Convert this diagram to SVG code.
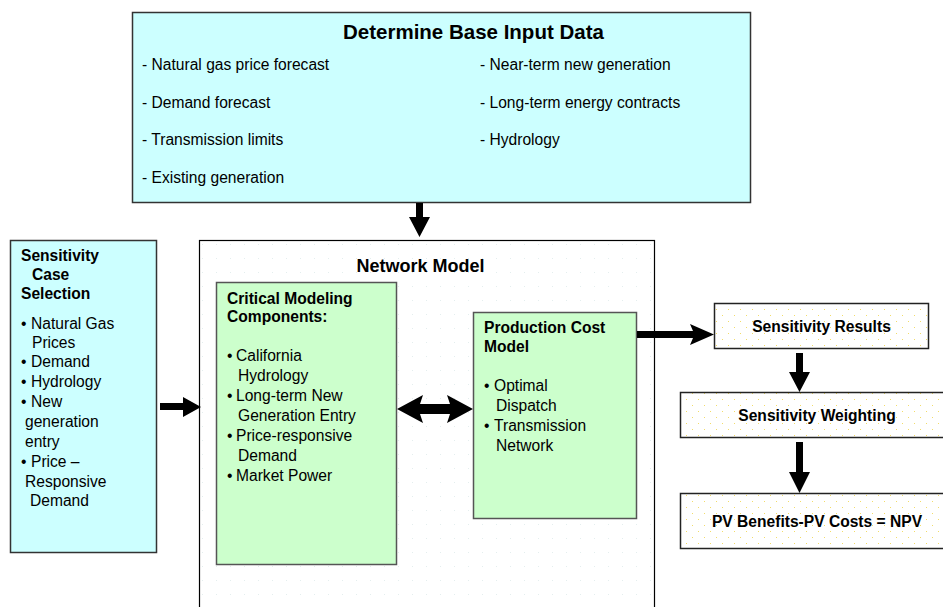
<svg xmlns="http://www.w3.org/2000/svg" width="943" height="607" viewBox="0 0 943 607">
<defs>
<pattern id="dots" width="12" height="12" patternUnits="userSpaceOnUse">
<rect width="12" height="12" fill="#ffffff"/>
<rect x="2" y="3" width="1" height="1" fill="#f2dc6a"/>
<rect x="8" y="9" width="1" height="1" fill="#f2dc6a"/>
</pattern>
<pattern id="grid" width="14" height="14" patternUnits="userSpaceOnUse">
<rect width="14" height="14" fill="#ffffff"/>
<rect x="6" y="6" width="1" height="1" fill="#e4eeee"/>
</pattern>
<style>
.t{font-family:"Liberation Sans",Arial,sans-serif;font-size:15.6px;fill:#000}
.b{font-family:"Liberation Sans",Arial,sans-serif;font-size:15.6px;font-weight:bold;fill:#000}
.h{font-family:"Liberation Sans",Arial,sans-serif;font-size:18px;font-weight:bold;fill:#000}
.cyan{fill:#ccffff;stroke:#333;stroke-width:1.5}
.green{fill:#ccffcc;stroke:#555;stroke-width:1.5}
.res{fill:url(#dots);stroke:#222;stroke-width:1.5}
.arrow{fill:#000}
</style>
</defs>

<g id="network-model">
<rect x="199.5" y="240.5" width="455" height="380" fill="url(#grid)" stroke="#000" stroke-width="1.2"/>
<text class="h" x="420.5" y="272" text-anchor="middle">Network Model</text>
</g>

<g id="base-input">
<rect class="cyan" x="132.5" y="12.5" width="618" height="190"/>
<text class="h" x="343" y="39" style="font-size:20.5px">Determine Base Input Data</text>
<text class="t" x="142" y="70">- Natural gas price forecast</text>
<text class="t" x="142" y="108">- Demand forecast</text>
<text class="t" x="142" y="145">- Transmission limits</text>
<text class="t" x="142" y="183">- Existing generation</text>
<text class="t" x="480" y="70">- Near-term new generation</text>
<text class="t" x="480" y="108">- Long-term energy contracts</text>
<text class="t" x="480" y="145">- Hydrology</text>
</g>

<g id="sensitivity-case">
<rect class="cyan" x="10.5" y="240.5" width="146" height="312"/>
<text class="b" x="21" y="261">Sensitivity</text>
<text class="b" x="32" y="280">Case</text>
<text class="b" x="21" y="299">Selection</text>
<text class="t" x="21" y="329">•</text><text class="t" x="31" y="329">Natural Gas</text>
<text class="t" x="32" y="348">Prices</text>
<text class="t" x="21" y="367">•</text><text class="t" x="31" y="367">Demand</text>
<text class="t" x="21" y="387">•</text><text class="t" x="31" y="387">Hydrology</text>
<text class="t" x="21" y="407">•</text><text class="t" x="31" y="407">New</text>
<text class="t" x="25" y="427">generation</text>
<text class="t" x="25" y="447">entry</text>
<text class="t" x="21" y="467">•</text><text class="t" x="31" y="467">Price –</text>
<text class="t" x="25" y="487">Responsive</text>
<text class="t" x="30" y="506">Demand</text>
</g>

<g id="critical-components">
<rect class="green" x="216.5" y="282.5" width="180" height="282"/>
<text class="b" x="227" y="304">Critical Modeling</text>
<text class="b" x="227" y="322">Components:</text>
<text class="t" x="227" y="361">•</text><text class="t" x="236" y="361">California</text>
<text class="t" x="238" y="381">Hydrology</text>
<text class="t" x="227" y="401">•</text><text class="t" x="236" y="401">Long-term New</text>
<text class="t" x="238" y="421">Generation Entry</text>
<text class="t" x="227" y="441">•</text><text class="t" x="236" y="441">Price-responsive</text>
<text class="t" x="238" y="461">Demand</text>
<text class="t" x="227" y="481">•</text><text class="t" x="236" y="481">Market Power</text>
</g>

<g id="production-cost">
<rect class="green" x="473.5" y="312.5" width="163" height="206"/>
<text class="b" x="484" y="333">Production Cost</text>
<text class="b" x="484" y="352">Model</text>
<text class="t" x="484" y="391">•</text><text class="t" x="494" y="391">Optimal</text>
<text class="t" x="496" y="411">Dispatch</text>
<text class="t" x="484" y="431">•</text><text class="t" x="494" y="431">Transmission</text>
<text class="t" x="496" y="451">Network</text>
</g>

<g id="sensitivity-results">
<rect class="res" x="714.5" y="303.5" width="214" height="45"/>
<text class="b" x="821.5" y="332" text-anchor="middle">Sensitivity Results</text>
</g>

<g id="sensitivity-weighting">
<rect class="res" x="680.5" y="392.5" width="275" height="45"/>
<text class="b" x="817" y="421" text-anchor="middle">Sensitivity Weighting</text>
</g>

<g id="npv">
<rect class="res" x="680.5" y="493.5" width="275" height="55"/>
<text class="b" x="817" y="527" text-anchor="middle">PV Benefits-PV Costs = NPV</text>
</g>

<g id="connectors">
<polygon class="arrow" points="416,203 423,203 423,217 430,217 419.5,237 409,217 416,217"/>
<polygon class="arrow" points="160,403 183,403 183,397 201,407 183,417 183,410 160,410"/>
<polygon class="arrow" points="397,409 423,395 420,404 450,404 447,395 473,409 447,423 450,414 420,414 423,423"/>
<polygon class="arrow" points="637,331 693,331 690,324 714,334.5 690,345 693,338 637,338"/>
<polygon class="arrow" points="796,353 803,353 803,372 810,372 799.5,392 789,372 796,372"/>
<polygon class="arrow" points="796,442 803,442 803,472 810,472 799.5,493 789,472 796,472"/>
</g>
</svg>
